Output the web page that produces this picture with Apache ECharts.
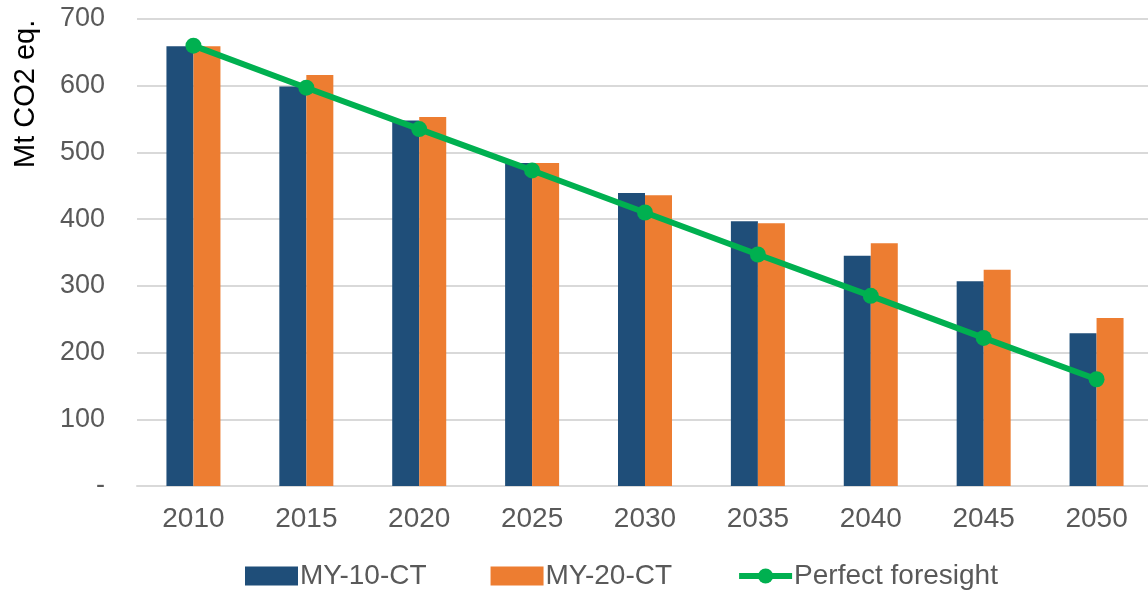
<!DOCTYPE html>
<html>
<head>
<meta charset="utf-8">
<script src="https://cdn.jsdelivr.net/npm/echarts@6/dist/echarts.min.js"></script>
<style>
    html, body { margin: 0; padding: 0; background: #fff; overflow: hidden; }
    #chart { width: 1156px; height: 591px; }
</style>
</head>
<body>
<div id="chart"></div>
<script>
// data
const years = ['2010', '2015', '2020', '2025', '2030', '2035', '2040', '2045', '2050']
const my10 = [659, 599, 548, 484, 439, 397, 345, 307, 229]
const my20 = [659, 616, 553, 484, 436, 394, 364, 324, 252]
const perfect = [660, 597, 535, 473, 410, 347, 285, 222, 160]

const fontFamily = 'Liberation Sans, Arial, sans-serif'
let chart = echarts.init(document.getElementById('chart'))

chart.setOption({
    animation: false,
    textStyle: { fontFamily: fontFamily },
    grid: {
        left: 137,
        top: 19,
        width: 1016,
        bottom: 105,
        containLabel: false
    },
    graphic: [{
        type: 'text',
        x: 11,
        y: 168,
        rotation: Math.PI / 2,
        style: {
            text: 'Mt CO2 eq.',
            fontSize: 29,
            fontFamily: fontFamily,
            fill: '#000'
        }
    }],
    legend: {
        left: 240,
        bottom: -4,
        itemWidth: 53,
        itemHeight: 19,
        itemGap: 64,
        textStyle: { fontSize: 28, color: '#595959', padding: [0, 0, 0, -3] },
        data: [
            { name: 'MY-10-CT', icon: 'rect' },
            { name: 'MY-20-CT', icon: 'rect' },
            { name: 'Perfect foresight', lineStyle: { width: 6 } }
        ]
    },
    xAxis: {
        type: 'category',
        data: years,
        axisLine: { lineStyle: { color: '#d9d9d9', width: 2 } },
        axisTick: { show: false },
        axisLabel: { fontSize: 28, color: '#595959', margin: 19 }
    },
    yAxis: {
        type: 'value',
        min: 0,
        max: 700,
        interval: 100,
        axisLine: { show: false },
        axisTick: { show: false },
        axisLabel: {
            fontSize: 27,
            color: '#595959',
            margin: 32,
            formatter: v => (v === 0 ? '-' : v)
        },
        splitLine: { lineStyle: { color: '#d9d9d9', width: 2 } }
    },
    series: [
        {
            name: 'MY-10-CT',
            type: 'bar',
            data: my10,
            barWidth: 27,
            barGap: '0%',
            itemStyle: { color: '#1f4e79' }
        },
        {
            name: 'MY-20-CT',
            type: 'bar',
            data: my20,
            barWidth: 27,
            itemStyle: { color: '#ed7d31' }
        },
        {
            name: 'Perfect foresight',
            type: 'line',
            data: perfect,
            symbol: 'circle',
            symbolSize: 16,
            lineStyle: { color: '#00b050', width: 6 },
            itemStyle: { color: '#00b050' },
            z: 5
        }
    ]
})
</script>
</body>
</html>
